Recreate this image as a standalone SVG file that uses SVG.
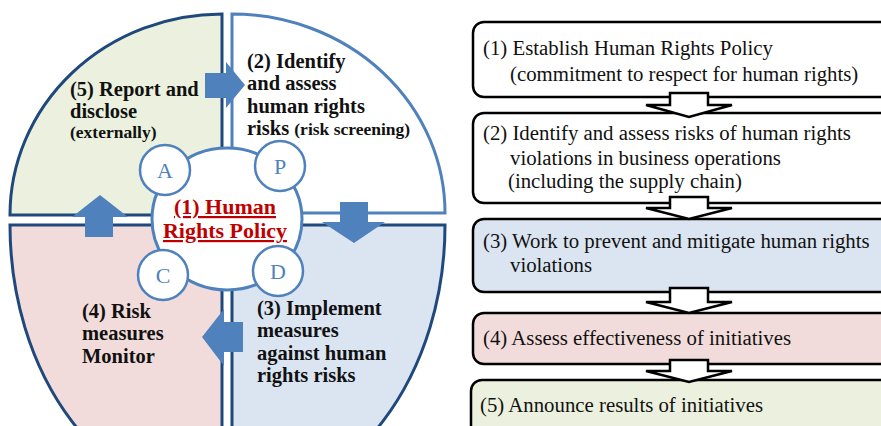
<svg xmlns="http://www.w3.org/2000/svg" width="881" height="426" viewBox="0 0 881 426">
  <style>
    .q { stroke-width: 3; }
    .navy { stroke: #1F497D; }
    .blue { stroke: #4F81BD; }
    .lbl { font-weight: bold; font-size: 20.5px; fill: #111; }
    .small { font-size: 17.5px; }
    .pdca { font-size: 22px; fill: #4F81BD; text-anchor: middle; }
    .ring { fill: #fff; stroke: #4F81BD; stroke-width: 2.5; }
    .core { font-weight: bold; font-size: 22px; fill: #C00000; text-anchor: middle; text-decoration: underline; }
    .barrow { fill: #4F81BD; }
    .box { stroke: #000; stroke-width: 2.5; }
    .btxt { font-size: 20.8px; fill: #111; }
    .flow { fill: #fff; stroke: #000; stroke-width: 2.5; stroke-linejoin: miter; }
  </style>

  <g font-family="Liberation Serif, DejaVu Serif, serif">
  <!-- cycle quadrants -->
  <g id="q5-report">
    <path class="q navy" d="M222,215 L10,215 A212,201 0 0 1 222,14 Z" fill="#EBF1DE"/>
    <text class="lbl" x="70" y="96">(5) Report and</text>
    <text class="lbl" x="70" y="118">disclose</text>
    <text class="lbl small" x="70" y="138">(externally)</text>
  </g>
  <g id="q2-identify">
    <path class="q blue" d="M232,213 L232,14 A213,199 0 0 1 445,213 Z" fill="#FFFFFF"/>
    <text class="lbl" x="247" y="68">(2) Identify</text>
    <text class="lbl" x="247" y="90">and assess</text>
    <text class="lbl" x="247" y="113">human rights</text>
    <text class="lbl" x="247" y="135">risks <tspan class="small">(risk screening)</tspan></text>
  </g>
  <g id="q4-monitor">
    <path class="q navy" d="M222,225 L10,225 A212,278 0 0 0 222,503 Z" fill="#F2DCDB"/>
    <text class="lbl" x="82" y="318">(4) Risk</text>
    <text class="lbl" x="82" y="340">measures</text>
    <text class="lbl" x="82" y="363">Monitor</text>
  </g>
  <g id="q3-implement">
    <path class="q navy" d="M232,225 L445,225 A213,278 0 0 1 232,503 Z" fill="#DBE5F1"/>
    <text class="lbl" x="257" y="315">(3) Implement</text>
    <text class="lbl" x="257" y="337">measures</text>
    <text class="lbl" x="257" y="360">against human</text>
    <text class="lbl" x="257" y="382">rights risks</text>
  </g>

  <!-- cycle arrows -->
  <g id="cycle-connectors">
    <polygon class="barrow" points="205,73 226,73 226,62 245,85 226,108 226,98 205,98"/>
    <polygon class="barrow" points="340,202 368,202 368,222 385,222 354,243 322,222 340,222"/>
    <polygon class="barrow" points="243,322 224,322 224,309 202,337 224,366 224,352 243,352"/>
    <polygon class="barrow" points="85,237 85,217 72,217 100,195 128,217 113,217 113,237"/>
  </g>

  <!-- policy hub with PDCA rings -->
  <g id="hub">
    <ellipse cx="227" cy="219" rx="75" ry="71" fill="#fff" stroke="#4F81BD" stroke-width="3"/>
    <text class="core" x="225" y="214">(1) Human</text>
    <text class="core" x="225" y="238">Rights Policy</text>
  </g>
  <g id="ring-a">
    <circle class="ring" cx="165" cy="170" r="25"/>
    <text class="pdca" x="165" y="178">A</text>
  </g>
  <g id="ring-p">
    <circle class="ring" cx="280" cy="166" r="25"/>
    <text class="pdca" x="280" y="174">P</text>
  </g>
  <g id="ring-c">
    <circle class="ring" cx="163" cy="275" r="25"/>
    <text class="pdca" x="163" y="283">C</text>
  </g>
  <g id="ring-d">
    <circle class="ring" cx="278" cy="271" r="25"/>
    <text class="pdca" x="278" y="279">D</text>
  </g>

  <!-- process steps -->
  <g id="step1">
    <rect class="box" x="473" y="22" width="440" height="75" rx="11" fill="#FFFFFF"/>
    <text class="btxt" x="483" y="55">(1) Establish Human Rights Policy</text>
    <text class="btxt" x="510" y="81">(commitment to respect for human rights)</text>
  </g>
  <g id="step2">
    <rect class="box" x="473" y="113" width="440" height="90" rx="11" fill="#FFFFFF"/>
    <text class="btxt" x="483" y="140">(2) Identify and assess risks of human rights</text>
    <text class="btxt" x="510" y="165">violations in business operations</text>
    <text class="btxt" x="508" y="188">(including the supply chain)</text>
  </g>
  <g id="step3">
    <rect class="box" x="473" y="219" width="440" height="73" rx="11" fill="#DBE5F1"/>
    <text class="btxt" x="483" y="248">(3) Work to prevent and  mitigate human rights</text>
    <text class="btxt" x="510" y="272">violations</text>
  </g>
  <g id="step4">
    <rect class="box" x="473" y="313" width="440" height="51" rx="11" fill="#F2DCDB"/>
    <text class="btxt" x="483" y="345">(4) Assess effectiveness of initiatives</text>
  </g>
  <g id="step5">
    <rect class="box" x="471" y="380" width="440" height="70" rx="11" fill="#EBF1DE"/>
    <text class="btxt" x="480" y="412">(5) Announce results of initiatives</text>
  </g>

  <!-- flow arrows between steps -->
  <g id="flow-connectors">
    <polygon class="flow" points="670,93 708,93 708,105 732,105 689,117 646,105 670,105"/>
    <polygon class="flow" points="670,197 708,197 708,208 732,208 689,219 646,208 670,208"/>
    <polygon class="flow" points="670,288 708,288 708,302 732,302 689,313 646,302 670,302"/>
    <polygon class="flow" points="670,360 708,360 708,371 732,371 689,382 646,371 670,371"/>
  </g>
  </g>
</svg>
